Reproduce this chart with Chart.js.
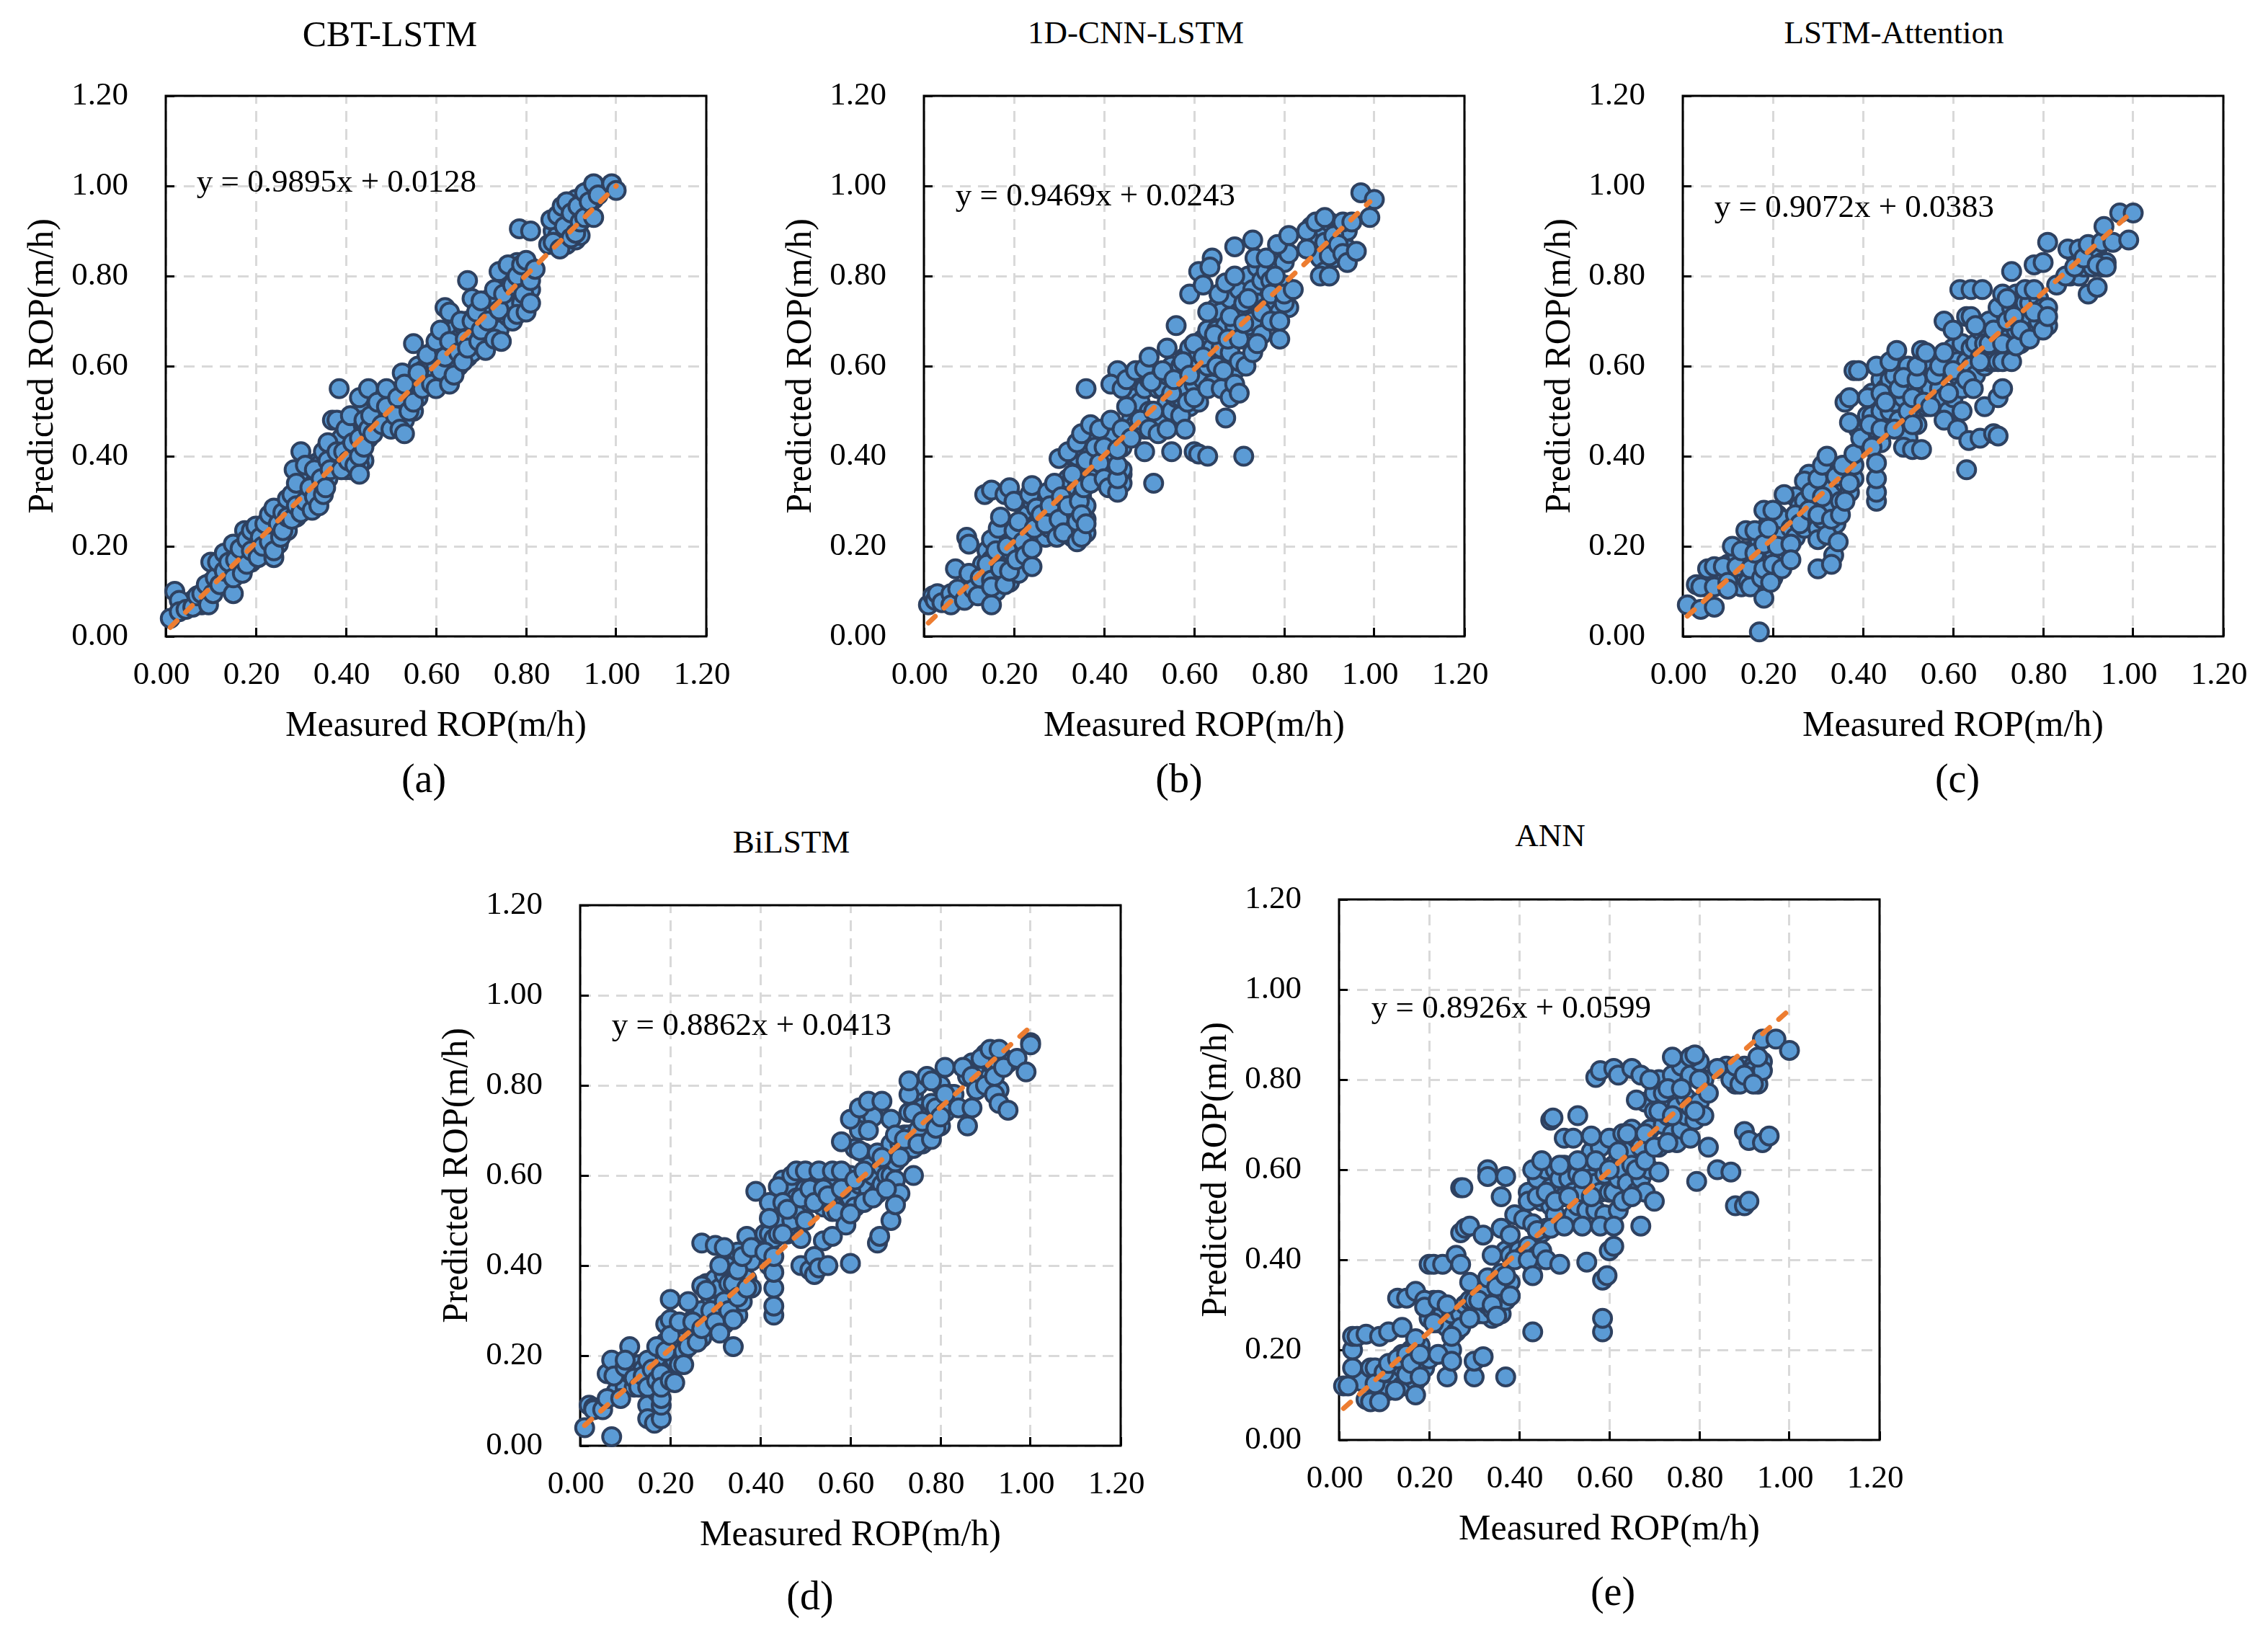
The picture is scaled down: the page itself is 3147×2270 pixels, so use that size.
<!DOCTYPE html>
<html>
<head>
<meta charset="utf-8">
<title>ROP scatter</title>
<script src="https://cdn.jsdelivr.net/npm/chart.js@4/dist/chart.umd.js"></script>
<style>
  html, body { margin: 0; padding: 0; background: #fff; }
  #page { position: relative; width: 3147px; height: 2270px; overflow: hidden; }
  canvas { position: absolute; }
  .label { position: absolute; transform: translate(-50%, -50%); white-space: nowrap; color: #000; font-family: "Liberation Serif", serif; line-height: 1; }
</style>
</head>
<body>
<div id="page"></div>
<script>
const tickLabels = ['0.00', '0.20', '0.40', '0.60', '0.80', '1.00', '1.20'];
const xAxisTitle = 'Measured ROP(m/h)';
const yAxisTitle = 'Predicted ROP(m/h)';

// values, [measured, predicted]
const cbtPoints = [[.42,.37],[.44,.39],[.43,.42],[.4,.43],[.39,.39],[.89,.87],[.91,.88],[.9,.9],[.06,.08],[.08,.07],[.10,.12],[.12,.14],[.125,.17],[.14,.13],[.145,.19],[.16,.15],[.16,.19],[.17,.17],[.175,.205],[.18,.18],[.19,.165],[.19,.21],[.2,.2],[.2,.22],[.21,.18],[.21,.24],[.22,.195],[.22,.23],[.23,.24],[.235,.195],[.24,.22],[.245,.26],[.25,.205],[.25,.275],[.26,.25],[.265,.285],[.27,.235],[.275,.28],[.28,.29],[.29,.315],[.29,.265],[.295,.35],[.3,.3],[.3,.335],[.305,.37],[.31,.33],[.32,.29],[.32,.36],[.33,.34],[.335,.385],[.34,.32],[.34,.38],[.35,.35],[.35,.41],[.36,.35],[.37,.42],[.37,.385],[.38,.38],[.39,.44],[.4,.4],[.4,.37],[.41,.42],[.41,.37],[.42,.46],[.42,.41],[.43,.48],[.43,.38],[.44,.45],[.44,.51],[.45,.44],[.46,.48],[.46,.53],[.47,.47],[.47,.5],[.48,.52],[.48,.5],[.49,.47],[.5,.52],[.5,.54],[.51,.47],[.51,.54],[.52,.5],[.53,.52],[.53,.48],[.54,.53],[.54,.57],[.55,.5],[.55,.56],[.56,.6],[.56,.53],[.57,.59],[.58,.58],[.59,.6],[.59,.63],[.6,.6],[.6,.58],[.61,.63],[.62,.66],[.62,.58],[.63,.61],[.64,.68],[.64,.63],[.65,.66],[.65,.6],[.66,.69],[.66,.64],[.67,.7],[.67,.62],[.68,.66],[.68,.63],[.69,.69],[.69,.74],[.7,.7],[.7,.65],[.71,.73],[.71,.67],[.72,.72],[.72,.68],[.72,.75],[.73,.7],[.74,.77],[.74,.68],[.75,.73],[.75,.79],[.76,.71],[.76,.77],[.77,.81],[.77,.74],[.78,.77],[.78,.83],[.79,.79],[.79,.74],[.8,.79],[.8,.76],[.81,.82],[.81,.77],[.86,.9],[.87,.89],[.88,.88],[.88,.93],[.89,.89],[.89,.94],[.9,.91],[.9,.96],[.91,.93],[.91,.97],[.92,.95],[.92,.89],[.93,.95],[.94,.94],[.94,.99],[.95,.97],
[.01,.04],[.02,.10],[.03,.08],[.03,.055],[.045,.06],[.06,.065],[.07,.09],[.08,.095],[.095,.07],[.09,.115],[.105,.095],[.10,.165],[.11,.13],[.115,.165],[.12,.115],[.13,.185],[.13,.145],[.14,.165],[.15,.095],[.15,.13],[.15,.205],[.155,.17],[.17,.14],[.165,.195],[.175,.235],[.18,.16],[.18,.215],[.19,.19],[.19,.235],[.205,.175],[.2,.245],[.21,.22],[.215,.2],[.22,.25],[.23,.21],[.23,.27],[.24,.175],[.24,.19],[.24,.285],[.25,.25],[.255,.22],[.26,.235],[.26,.275],[.27,.265],[.27,.305],[.28,.26],[.28,.315],[.285,.37],[.29,.34],[.29,.29],[.3,.41],[.3,.275],[.31,.38],[.31,.3],[.32,.33],[.325,.28],[.33,.37],[.33,.31],[.34,.29],[.345,.35],[.35,.315],[.355,.33],[.36,.43],[.36,.39],[.365,.37],[.37,.48],[.38,.48],[.38,.41],[.385,.55],[.39,.37],[.395,.41],[.4,.46],[.405,.39],[.41,.49],[.415,.43],[.42,.38],[.43,.36],[.43,.40],[.43,.44],[.43,.53],[.44,.48],[.44,.42],[.45,.55],[.45,.46],[.455,.49],[.46,.45],[.47,.52],[.48,.47],[.49,.55],[.49,.51],[.5,.46],[.51,.49],[.515,.53],[.52,.46],[.525,.585],[.53,.56],[.53,.45],[.54,.50],[.55,.65],[.55,.52],[.56,.585],[.57,.55],[.58,.625],[.59,.56],[.6,.655],[.6,.55],[.61,.68],[.61,.59],[.62,.73],[.62,.62],[.63,.72],[.63,.655],[.63,.56],[.64,.58],[.65,.63],[.655,.70],[.66,.61],[.665,.66],[.67,.79],[.67,.64],[.68,.75],[.68,.70],[.69,.72],[.695,.655],[.7,.68],[.7,.745],[.71,.635],[.715,.70],[.73,.77],[.73,.66],[.74,.81],[.74,.725],[.745,.655],[.75,.76],[.76,.825],[.77,.78],[.77,.70],[.78,.80],[.785,.905],[.78,.715],[.79,.825],[.795,.76],[.8,.835],[.8,.72],[.81,.90],[.81,.79],[.81,.74],[.82,.815],[.85,.87],[.855,.925],[.86,.875],[.87,.935],[.875,.86],[.88,.955],[.885,.91],[.89,.965],[.9,.885],[.9,.94],[.91,.895],[.915,.955],[.92,.92],[.93,.985],[.93,.93],[.94,.965],[.95,1.005],[.95,.93],[.96,.98],[.99,1.005],[1.0,.99]];

const cnnPoints = [[.35,.24],[.36,.26],[.44,.36],[.43,.33],[.9,.85],[.92,.86],[.94,.84],[.03,.085],[.05,.09],[.08,.1],[.1,.1],[.11,.13],[.12,.12],[.13,.16],[.13,.1],[.14,.12],[.14,.19],[.15,.17],[.16,.13],[.16,.1],[.165,.21],[.17,.18],[.18,.17],[.18,.23],[.19,.12],[.19,.19],[.2,.16],[.2,.21],[.21,.14],[.21,.19],[.21,.3],[.22,.24],[.22,.29],[.23,.27],[.23,.22],[.24,.3],[.25,.25],[.25,.22],[.26,.3],[.26,.24],[.27,.28],[.27,.22],[.28,.26],[.28,.24],[.29,.3],[.29,.27],[.3,.33],[.3,.23],[.31,.34],[.31,.28],[.32,.25],[.32,.35],[.33,.22],[.33,.3],[.33,.4],[.34,.33],[.34,.4],[.35,.36],[.35,.31],[.35,.42],[.36,.23],[.36,.29],[.36,.44],[.37,.38],[.38,.35],[.38,.45],[.39,.42],[.4,.38],[.41,.37],[.41,.41],[.42,.35],[.42,.45],[.43,.36],[.44,.34],[.44,.37],[.44,.42],[.45,.45],[.45,.55],[.46,.48],[.46,.55],[.47,.47],[.47,.53],[.48,.59],[.48,.52],[.49,.46],[.49,.55],[.5,.5],[.5,.57],[.51,.48],[.51,.59],[.52,.55],[.52,.49],[.53,.47],[.53,.55],[.54,.52],[.54,.58],[.55,.5],[.55,.6],[.56,.53],[.56,.56],[.57,.53],[.57,.6],[.58,.55],[.58,.62],[.59,.51],[.59,.64],[.6,.6],[.6,.56],[.61,.52],[.61,.63],[.62,.57],[.62,.66],[.63,.6],[.63,.68],[.64,.64],[.64,.56],[.65,.73],[.65,.68],[.66,.64],[.66,.72],[.67,.6],[.67,.69],[.68,.75],[.68,.63],[.69,.69],[.69,.59],[.7,.72],[.7,.77],[.7,.61],[.71,.74],[.71,.66],[.72,.8],[.72,.69],[.73,.77],[.73,.7],[.74,.82],[.74,.74],[.75,.79],[.75,.67],[.76,.73],[.76,.81],[.77,.79],[.78,.74],[.78,.83],[.79,.72],[.8,.78],[.8,.83],[.81,.73],[.81,.85],[.86,.88],[.86,.91],[.87,.89],[.88,.91],[.88,.84],[.89,.81],[.89,.9],[.9,.87],[.9,.92],[.91,.84],[.92,.9],[.93,.88],[.94,.9],[.94,.86],
[.01,.07],[.02,.09],[.025,.08],[.03,.095],[.04,.075],[.06,.095],[.06,.07],[.075,.105],[.07,.15],[.09,.08],[.095,.22],[.1,.14],[.1,.205],[.11,.105],[.12,.09],[.125,.13],[.135,.315],[.14,.16],[.15,.325],[.15,.07],[.15,.125],[.15,.215],[.15,.11],[.16,.19],[.165,.24],[.17,.15],[.17,.265],[.18,.115],[.18,.315],[.185,.2],[.19,.145],[.19,.33],[.2,.30],[.2,.235],[.205,.17],[.21,.255],[.22,.21],[.225,.18],[.235,.315],[.24,.335],[.24,.155],[.24,.195],[.245,.24],[.25,.285],[.26,.27],[.27,.25],[.275,.32],[.28,.29],[.29,.34],[.295,.22],[.3,.395],[.3,.26],[.305,.31],[.31,.23],[.32,.41],[.32,.29],[.33,.36],[.34,.21],[.34,.43],[.34,.255],[.345,.30],[.35,.45],[.35,.22],[.35,.27],[.355,.33],[.36,.55],[.36,.25],[.36,.39],[.37,.47],[.37,.34],[.38,.42],[.39,.385],[.39,.46],[.4,.35],[.4,.42],[.41,.33],[.415,.48],[.43,.32],[.43,.35],[.43,.38],[.43,.415],[.43,.59],[.415,.56],[.44,.46],[.44,.55],[.45,.51],[.45,.57],[.46,.44],[.47,.59],[.48,.48],[.49,.41],[.49,.595],[.5,.62],[.5,.46],[.505,.565],[.51,.34],[.51,.5],[.52,.45],[.53,.59],[.54,.64],[.54,.46],[.55,.41],[.55,.54],[.555,.57],[.56,.69],[.57,.49],[.575,.61],[.58,.46],[.585,.52],[.59,.76],[.59,.58],[.6,.41],[.6,.65],[.6,.53],[.61,.81],[.61,.405],[.62,.78],[.62,.62],[.63,.40],[.63,.55],[.63,.72],[.64,.84],[.635,.82],[.645,.67],[.65,.6],[.655,.76],[.66,.55],[.665,.59],[.67,.485],[.67,.785],[.675,.66],[.68,.53],[.68,.71],[.69,.865],[.69,.8],[.69,.56],[.7,.54],[.7,.66],[.71,.40],[.71,.695],[.715,.6],[.72,.75],[.73,.88],[.73,.63],[.735,.84],[.74,.65],[.75,.72],[.76,.84],[.77,.76],[.77,.7],[.78,.8],[.785,.87],[.79,.66],[.79,.7],[.8,.74],[.8,.76],[.81,.89],[.82,.77],[.85,.9],[.85,.86],[.87,.92],[.88,.8],[.89,.93],[.89,.875],[.9,.8],[.9,.845],[.91,.89],[.92,.87],[.93,.92],[.93,.85],[.94,.83],[.95,.92],[.96,.855],[.97,.985],[1.0,.97],[.99,.93]];

const attentionPoints = [[.88,.83],[.89,.83],[.9,.85],[.93,.82],[.92,.84],[.18,.17],[.16,.16],[.35,.33],[.37,.36],[.05,.11],[.08,.13],[.09,.12],[.1,.16],[.11,.15],[.12,.13],[.12,.18],[.13,.15],[.13,.11],[.14,.17],[.14,.13],[.15,.19],[.16,.14],[.16,.12],[.17,.17],[.17,.11],[.17,.21],[.18,.13],[.18,.18],[.19,.16],[.19,.2],[.19,.25],[.2,.13],[.2,.19],[.21,.27],[.21,.23],[.22,.19],[.22,.26],[.23,.2],[.24,.24],[.25,.22],[.25,.31],[.26,.29],[.27,.24],[.27,.3],[.28,.26],[.28,.36],[.29,.34],[.29,.29],[.3,.33],[.3,.24],[.31,.26],[.31,.35],[.32,.3],[.32,.36],[.33,.33],[.33,.29],[.34,.37],[.34,.25],[.35,.35],[.35,.3],[.36,.34],[.36,.36],[.37,.32],[.38,.35],[.38,.38],[.39,.46],[.4,.44],[.41,.49],[.41,.44],[.42,.54],[.42,.49],[.43,.46],[.43,.53],[.44,.5],[.44,.43],[.44,.57],[.45,.46],[.45,.55],[.46,.5],[.46,.57],[.47,.52],[.47,.58],[.48,.48],[.48,.54],[.49,.53],[.5,.55],[.5,.6],[.5,.44],[.51,.5],[.52,.53],[.52,.47],[.53,.55],[.53,.61],[.54,.51],[.54,.57],[.55,.55],[.55,.6],[.56,.52],[.57,.55],[.57,.62],[.58,.53],[.58,.59],[.59,.6],[.59,.5],[.6,.53],[.6,.64],[.61,.58],[.61,.61],[.62,.55],[.62,.65],[.63,.61],[.63,.71],[.64,.64],[.64,.6],[.65,.65],[.65,.58],[.66,.62],[.66,.68],[.67,.6],[.67,.65],[.68,.61],[.68,.7],[.69,.65],[.69,.61],[.7,.68],[.7,.61],[.7,.73],[.71,.76],[.72,.63],[.72,.66],[.73,.65],[.73,.73],[.74,.76],[.74,.68],[.75,.65],[.75,.72],[.76,.67],[.76,.74],[.77,.7],[.77,.74],[.78,.68],[.79,.75],[.79,.7],[.8,.73],[.81,.69],[.81,.73],[.86,.8],[.87,.85],[.88,.8],[.88,.84],[.89,.82],[.89,.86],[.9,.83],[.91,.85],[.91,.82],[.92,.86],[.93,.83],[.94,.83],
[.01,.07],[.03,.115],[.04,.11],[.04,.06],[.07,.065],[.055,.15],[.07,.155],[.07,.11],[.09,.155],[.1,.12],[.1,.105],[.11,.2],[.12,.155],[.13,.19],[.14,.235],[.145,.12],[.15,.15],[.15,.11],[.16,.235],[.16,.185],[.17,.01],[.175,.13],[.18,.085],[.18,.205],[.18,.15],[.18,.28],[.19,.24],[.195,.12],[.2,.28],[.2,.16],[.21,.2],[.22,.15],[.225,.315],[.24,.205],[.24,.17],[.25,.27],[.26,.25],[.27,.345],[.28,.28],[.285,.32],[.3,.15],[.3,.215],[.3,.27],[.3,.35],[.31,.38],[.31,.31],[.32,.225],[.32,.40],[.33,.26],[.335,.18],[.33,.16],[.34,.355],[.35,.27],[.345,.21],[.36,.30],[.355,.38],[.37,.34],[.38,.405],[.36,.52],[.37,.53],[.37,.475],[.38,.59],[.39,.59],[.395,.44],[.41,.53],[.415,.47],[.42,.42],[.43,.30],[.43,.32],[.43,.35],[.43,.385],[.43,.6],[.44,.46],[.44,.54],[.45,.52],[.46,.61],[.47,.46],[.475,.635],[.48,.55],[.49,.42],[.49,.575],[.5,.5],[.51,.415],[.51,.53],[.51,.47],[.52,.57],[.52,.6],[.53,.635],[.535,.52],[.53,.415],[.54,.63],[.55,.51],[.56,.58],[.57,.6],[.58,.63],[.58,.48],[.58,.70],[.59,.54],[.6,.68],[.6,.59],[.61,.46],[.615,.77],[.62,.5],[.63,.37],[.63,.57],[.635,.435],[.64,.77],[.64,.71],[.645,.55],[.65,.69],[.66,.44],[.66,.61],[.665,.77],[.67,.51],[.68,.65],[.69,.45],[.7,.445],[.69,.68],[.7,.53],[.71,.55],[.71,.61],[.71,.65],[.72,.7],[.72,.75],[.73,.61],[.735,.71],[.74,.645],[.75,.68],[.73,.81],[.76,.77],[.77,.66],[.78,.77],[.78,.72],[.78,.825],[.8,.83],[.8,.68],[.81,.71],[.81,.875],[.83,.78],[.85,.8],[.855,.86],[.87,.82],[.88,.86],[.89,.84],[.9,.76],[.9,.87],[.92,.775],[.92,.825],[.93,.875],[.94,.82],[.935,.91],[.955,.875],[.97,.94],[1.0,.94],[.99,.88]];

const bilstmPoints = [[.36,.35],[.35,.31],[.34,.34],[.16,.15],[.17,.14],[.9,.82],[.62,.73],[.63,.75],[.65,.74],[.08,.12],[.09,.17],[.1,.13],[.11,.16],[.12,.18],[.12,.13],[.13,.16],[.13,.18],[.14,.14],[.14,.17],[.15,.15],[.15,.09],[.16,.13],[.16,.19],[.17,.17],[.17,.12],[.18,.19],[.19,.15],[.19,.23],[.2,.17],[.2,.27],[.21,.19],[.21,.27],[.22,.18],[.22,.25],[.23,.27],[.23,.21],[.24,.27],[.25,.24],[.25,.28],[.26,.27],[.27,.3],[.27,.24],[.28,.36],[.28,.27],[.29,.33],[.29,.27],[.3,.37],[.3,.31],[.31,.28],[.31,.35],[.32,.38],[.32,.27],[.33,.36],[.33,.41],[.33,.29],[.34,.32],[.34,.4],[.35,.29],[.35,.37],[.35,.43],[.36,.32],[.36,.39],[.37,.37],[.38,.41],[.38,.35],[.39,.45],[.4,.44],[.41,.47],[.42,.47],[.42,.4],[.43,.46],[.44,.47],[.44,.52],[.45,.5],[.45,.59],[.46,.47],[.47,.57],[.47,.5],[.48,.55],[.49,.52],[.5,.57],[.51,.54],[.51,.6],[.52,.57],[.52,.59],[.53,.55],[.53,.58],[.54,.6],[.54,.53],[.55,.59],[.56,.52],[.56,.57],[.57,.59],[.57,.55],[.58,.53],[.59,.6],[.59,.56],[.6,.55],[.6,.6],[.61,.53],[.61,.66],[.62,.58],[.62,.7],[.63,.65],[.64,.57],[.64,.62],[.65,.6],[.65,.73],[.66,.65],[.66,.56],[.67,.62],[.67,.58],[.68,.64],[.68,.6],[.69,.6],[.69,.67],[.7,.63],[.7,.59],[.71,.67],[.71,.56],[.72,.65],[.72,.69],[.73,.69],[.73,.74],[.74,.66],[.74,.78],[.75,.7],[.75,.8],[.76,.67],[.76,.75],[.77,.74],[.78,.76],[.79,.75],[.8,.8],[.8,.71],[.81,.74],[.82,.78],[.83,.78],[.86,.82],[.87,.85],[.88,.83],[.89,.81],[.89,.83],[.9,.87],[.9,.84],[.91,.82],[.91,.85],[.92,.87],[.92,.84],[.93,.79],[.93,.85],[.94,.86],[.95,.85],
[.01,.04],[.02,.09],[.03,.085],[.03,.08],[.05,.08],[.06,.105],[.07,.02],[.09,.105],[.06,.16],[.07,.19],[.075,.155],[.1,.175],[.11,.22],[.1,.19],[.12,.15],[.13,.13],[.14,.155],[.15,.19],[.15,.06],[.15,.13],[.16,.17],[.165,.05],[.17,.145],[.17,.22],[.18,.06],[.18,.09],[.18,.105],[.18,.16],[.18,.13],[.19,.21],[.2,.145],[.2,.325],[.19,.27],[.2,.28],[.2,.245],[.21,.14],[.22,.275],[.23,.18],[.24,.22],[.24,.32],[.25,.275],[.26,.23],[.27,.26],[.27,.355],[.27,.45],[.28,.345],[.29,.3],[.3,.445],[.3,.275],[.31,.40],[.31,.25],[.32,.44],[.32,.32],[.33,.3],[.34,.22],[.34,.36],[.34,.28],[.35,.39],[.35,.33],[.36,.42],[.37,.465],[.37,.35],[.38,.44],[.39,.565],[.41,.43],[.42,.54],[.42,.505],[.43,.29],[.43,.31],[.43,.35],[.43,.385],[.43,.42],[.44,.575],[.45,.47],[.45,.54],[.46,.525],[.47,.6],[.48,.61],[.49,.46],[.49,.4],[.49,.55],[.5,.61],[.5,.5],[.51,.39],[.51,.57],[.52,.38],[.52,.42],[.52,.54],[.53,.395],[.53,.61],[.54,.455],[.54,.57],[.55,.40],[.55,.555],[.56,.465],[.56,.61],[.57,.52],[.58,.61],[.58,.57],[.58,.675],[.59,.49],[.6,.405],[.6,.515],[.6,.725],[.61,.59],[.62,.75],[.62,.655],[.63,.54],[.63,.61],[.64,.765],[.64,.7],[.65,.55],[.66,.45],[.665,.465],[.67,.765],[.67,.64],[.68,.57],[.69,.5],[.69,.725],[.7,.535],[.7,.69],[.71,.64],[.72,.68],[.73,.78],[.73,.81],[.74,.6],[.74,.74],[.75,.67],[.76,.72],[.77,.82],[.78,.68],[.78,.81],[.79,.705],[.8,.73],[.81,.84],[.81,.78],[.84,.75],[.85,.84],[.86,.71],[.87,.75],[.87,.82],[.88,.79],[.89,.86],[.9,.8],[.91,.88],[.92,.82],[.92,.78],[.93,.76],[.93,.88],[.94,.84],[.95,.745],[.97,.86],[.99,.83],[1.0,.895],[1.0,.89]];

const annPoints = [[.14,.19],[.15,.15],[.16,.16],[.17,.19],[.18,.15],[.19,.18],[.16,.18],[.17,.15],[.15,.14],[.33,.28],[.34,.31],[.35,.29],[.36,.3],[.37,.32],[.38,.32],[.34,.27],[.36,.28],[.05,.13],[.1,.13],[.11,.11],[.12,.15],[.13,.14],[.14,.16],[.14,.12],[.15,.12],[.15,.17],[.16,.14],[.16,.2],[.17,.17],[.17,.13],[.18,.17],[.18,.21],[.19,.16],[.2,.18],[.2,.27],[.21,.31],[.22,.26],[.23,.28],[.24,.25],[.25,.28],[.25,.2],[.26,.24],[.27,.28],[.27,.25],[.28,.3],[.29,.31],[.3,.28],[.3,.31],[.31,.28],[.32,.33],[.32,.28],[.33,.3],[.33,.36],[.34,.29],[.35,.31],[.36,.31],[.36,.37],[.37,.31],[.38,.35],[.37,.42],[.38,.41],[.39,.5],[.4,.42],[.41,.41],[.41,.49],[.42,.43],[.42,.55],[.43,.48],[.43,.39],[.44,.41],[.44,.58],[.45,.46],[.45,.53],[.46,.47],[.46,.6],[.47,.52],[.47,.56],[.48,.6],[.48,.5],[.49,.58],[.5,.54],[.5,.61],[.51,.58],[.52,.5],[.52,.55],[.53,.59],[.53,.52],[.54,.55],[.55,.61],[.55,.51],[.56,.58],[.56,.64],[.57,.51],[.57,.57],[.58,.65],[.58,.55],[.59,.5],[.59,.59],[.6,.55],[.6,.67],[.61,.61],[.61,.55],[.62,.58],[.62,.51],[.63,.68],[.63,.6],[.64,.64],[.64,.57],[.65,.61],[.65,.69],[.66,.55],[.66,.67],[.67,.58],[.67,.65],[.68,.75],[.68,.55],[.69,.6],[.69,.69],[.7,.73],[.7,.77],[.71,.65],[.71,.8],[.72,.7],[.72,.74],[.73,.72],[.74,.68],[.74,.81],[.75,.74],[.75,.66],[.76,.69],[.76,.83],[.77,.72],[.77,.76],[.78,.74],[.78,.81],[.79,.71],[.8,.75],[.8,.84],[.81,.72],[.81,.8],[.86,.83],[.88,.79],[.89,.81],[.9,.83],[.91,.8],[.92,.83],[.92,.82],[.93,.81],[.93,.79],[.94,.84],[.94,.82],
[.01,.12],[.02,.12],[.03,.16],[.03,.2],[.03,.23],[.04,.23],[.06,.235],[.09,.23],[.11,.24],[.06,.09],[.07,.085],[.09,.085],[.07,.16],[.08,.16],[.08,.125],[.1,.15],[.11,.17],[.125,.11],[.13,.18],[.13,.315],[.14,.25],[.15,.315],[.15,.145],[.15,.19],[.16,.17],[.17,.10],[.17,.33],[.17,.225],[.18,.14],[.18,.19],[.19,.31],[.19,.295],[.2,.39],[.21,.39],[.21,.26],[.22,.31],[.22,.19],[.23,.39],[.24,.14],[.24,.3],[.25,.175],[.25,.23],[.26,.41],[.27,.39],[.27,.46],[.27,.56],[.275,.56],[.28,.47],[.29,.475],[.29,.35],[.29,.27],[.3,.14],[.3,.175],[.31,.31],[.32,.185],[.32,.455],[.33,.6],[.33,.585],[.34,.41],[.34,.3],[.35,.34],[.35,.275],[.36,.47],[.36,.54],[.37,.14],[.37,.585],[.37,.365],[.38,.32],[.38,.455],[.39,.4],[.42,.53],[.42,.4],[.43,.24],[.43,.365],[.43,.6],[.44,.465],[.44,.54],[.45,.42],[.45,.62],[.46,.4],[.46,.55],[.47,.47],[.47,.71],[.475,.715],[.48,.53],[.49,.39],[.49,.61],[.5,.475],[.5,.67],[.51,.54],[.52,.67],[.53,.72],[.53,.62],[.54,.475],[.54,.58],[.55,.395],[.56,.675],[.56,.54],[.57,.62],[.57,.805],[.58,.82],[.58,.475],[.585,.24],[.585,.27],[.585,.355],[.595,.365],[.6,.42],[.6,.6],[.61,.43],[.61,.825],[.61,.475],[.62,.64],[.62,.81],[.63,.53],[.64,.68],[.65,.825],[.65,.54],[.66,.755],[.66,.6],[.67,.81],[.67,.475],[.68,.68],[.68,.62],[.69,.8],[.7,.53],[.7,.65],[.71,.595],[.71,.73],[.72,.77],[.73,.78],[.73,.66],[.74,.85],[.74,.72],[.76,.78],[.78,.85],[.78,.67],[.79,.855],[.79,.73],[.794,.574],[.8,.8],[.82,.77],[.82,.65],[.84,.6],[.84,.825],[.87,.595],[.87,.8],[.88,.52],[.88,.83],[.89,.79],[.9,.52],[.9,.685],[.9,.81],[.91,.53],[.91,.665],[.92,.79],[.93,.85],[.94,.66],[.94,.89],[.955,.675],[.97,.89],[1.0,.865]];

const cbtLine = [[.01,.02],[1.0,1.0]];
const cnnLine = [[.01,.03],[.99,.965]];
const attentionLine = [[.01,.045],[1.0,.945]];
const bilstmLine = [[.01,.045],[1.0,.93]];
const annLine = [[.01,.07],[1.0,.955]];

const PLOT_SIZE = 750;
const MARGIN_LEFT = 200;
const MARGIN_BOTTOM = 155;
const MARGIN_RIGHT = 60;
const MARGIN_TOP = 20;

const panels = [
    { title: 'CBT-LSTM', titleSize: 50, titleAt: [541, 47], caption: '(a)', captionAt: [588, 1080], eq: 'y = 0.9895x + 0.0128', eqAt: [467, 251], left: 230, top: 133, points: cbtPoints, line: cbtLine },
    { title: '1D-CNN-LSTM', titleSize: 45, titleAt: [1576, 45], caption: '(b)', captionAt: [1636, 1080], eq: 'y = 0.9469x + 0.0243', eqAt: [1520, 270], left: 1282, top: 133, points: cnnPoints, line: cnnLine },
    { title: 'LSTM-Attention', titleSize: 45, titleAt: [2628, 45], caption: '(c)', captionAt: [2716, 1080], eq: 'y = 0.9072x + 0.0383', eqAt: [2573, 286], left: 2335, top: 133, points: attentionPoints, line: attentionLine },
    { title: 'BiLSTM', titleSize: 45, titleAt: [1098, 1168], caption: '(d)', captionAt: [1124, 2214], eq: 'y = 0.8862x + 0.0413', eqAt: [1043, 1421], left: 805, top: 1256, points: bilstmPoints, line: bilstmLine },
    { title: 'ANN', titleSize: 45, titleAt: [2151, 1159], caption: '(e)', captionAt: [2238, 2208], eq: 'y = 0.8926x + 0.0599', eqAt: [2097, 1397], left: 1858, top: 1248, points: annPoints, line: annLine }
];

const page = document.getElementById('page');

function addLabel(text, at, size) {
    const el = document.createElement('div');
    el.className = 'label';
    el.textContent = text;
    el.style.left = at[0] + 'px';
    el.style.top = at[1] + 'px';
    el.style.fontSize = size + 'px';
    page.appendChild(el);
}

// black box round the plot area
const plotFrame = {
    id: 'plotFrame',
    beforeDatasetsDraw(chart) {
        const { ctx, chartArea: a } = chart;
        ctx.save();
        ctx.strokeStyle = '#000';
        ctx.lineWidth = 3;
        ctx.strokeRect(a.left, a.top, a.right - a.left, a.bottom - a.top);
        ctx.restore();
    }
};

function axisOptions(title, isX) {
    const tickLength = 12;
    return {
        type: 'linear',
        min: 0,
        max: 1.2,
        afterFit: scale => {
            if (isX) scale.height = MARGIN_BOTTOM;
            else scale.width = MARGIN_LEFT;
            // tick labels stick out past the plot, keep the box size fixed anyway
            scale.paddingLeft = 0;
            scale.paddingRight = 0;
            scale.paddingTop = 0;
            scale.paddingBottom = 0;
        },
        title: {
            display: true,
            text: title,
            color: '#000',
            padding: 0,
            font: { family: 'Liberation Serif', size: 50 }
        },
        border: { display: false, dash: [15, 10], dashOffset: isX ? 4 : 0 },
        grid: {
            color: '#d9d9d9',
            lineWidth: 3,
            tickLength: -tickLength,
            tickColor: '#000',
            tickWidth: 3,
            tickBorderDash: []
        },
        ticks: {
            stepSize: 0.2,
            autoSkip: false,
            maxRotation: 0,
            color: '#000',
            padding: (isX ? 27 : 52) + tickLength,
            labelOffset: isX ? -6 : 0,
            font: { family: 'Liberation Serif', size: 45 },
            callback: (value, index) => tickLabels[index]
        }
    };
}

function toXY(pairs) {
    return pairs.map(p => ({ x: p[0], y: p[1] }));
}

panels.forEach(panel => {
    const canvas = document.createElement('canvas');
    const width = MARGIN_LEFT + PLOT_SIZE + MARGIN_RIGHT;
    const height = MARGIN_TOP + PLOT_SIZE + MARGIN_BOTTOM;
    canvas.width = width;
    canvas.height = height;
    canvas.style.left = (panel.left - MARGIN_LEFT) + 'px';
    canvas.style.top = (panel.top - MARGIN_TOP) + 'px';
    canvas.style.width = width + 'px';
    canvas.style.height = height + 'px';
    page.appendChild(canvas);

    new Chart(canvas.getContext('2d'), {
        type: 'scatter',
        data: {
            datasets: [
                {
                    label: 'Trend',
                    data: toXY(panel.line),
                    showLine: true,
                    borderColor: '#ed7d31',
                    borderWidth: 7,
                    borderDash: [13, 17],
                    borderCapStyle: 'round',
                    pointRadius: 0,
                    clip: false
                },
                {
                    label: panel.title,
                    data: toXY(panel.points),
                    backgroundColor: '#5b9bd5',
                    borderColor: '#2e4160',
                    borderWidth: 4,
                    pointRadius: 12.5,
                    clip: false
                }
            ]
        },
        options: {
            responsive: false,
            devicePixelRatio: 1,
            animation: false,
            events: [],
            layout: {
                autoPadding: false,
                padding: { left: 0, top: MARGIN_TOP, right: MARGIN_RIGHT, bottom: 0 }
            },
            plugins: {
                legend: { display: false },
                tooltip: { enabled: false }
            },
            scales: {
                x: axisOptions(xAxisTitle, true),
                y: axisOptions(yAxisTitle, false)
            }
        },
        plugins: [plotFrame]
    });

    addLabel(panel.title, panel.titleAt, panel.titleSize);
    addLabel(panel.caption, panel.captionAt, 56);
    addLabel(panel.eq, panel.eqAt, 45);
});
</script>
</body>
</html>
